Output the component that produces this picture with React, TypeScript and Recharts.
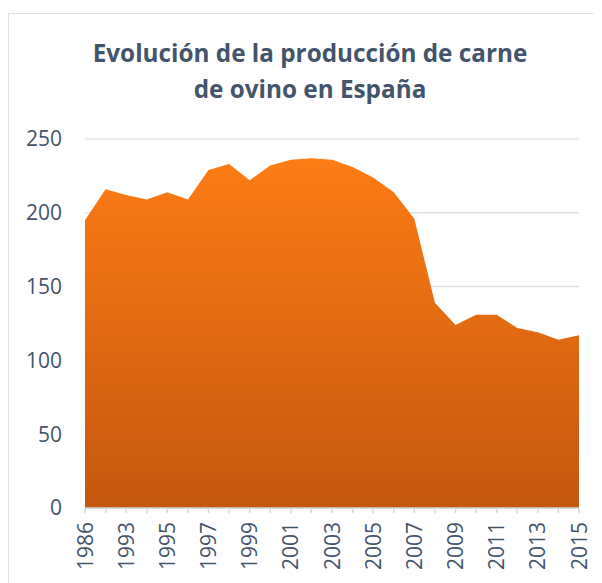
import { AreaChart, Area, XAxis, YAxis, CartesianGrid } from "recharts";

const years = [
  "1986", "1990", "1993", "1994", "1995", "1996", "1997", "1998", "1999",
  "2000", "2001", "2002", "2003", "2004", "2005", "2006", "2007", "2008",
  "2009", "2010", "2011", "2012", "2013", "2014", "2015",
];
const production = [
  195, 216, 212, 209, 214, 209, 229, 233, 222,
  232, 236, 237, 236, 231, 224, 214, 196, 139,
  124, 131, 131, 122, 119, 114, 117,
];
const yTicks = [0, 50, 100, 150, 200, 250];

const data = years.map((year, i) => ({ year, value: production[i] }));

const FONT = "'Open Sans', sans-serif";
const TEXT = "#44546a";

const YearTick = (props: any) => {
  const { x, y, payload, index } = props;
  if (index % 2 !== 0) return null;
  return (
    <text
      x={x}
      y={y}
      transform={`rotate(-90 ${x} ${y})`}
      textAnchor="end"
      dy="0.36em"
      fontSize={21}
      fontFamily={FONT}
      fill={TEXT}
    >
      {payload.value}
    </text>
  );
};

export default function App() {
  return (
    <div
      style={{
        position: "relative",
        marginTop: 5,
        width: 594,
        height: 570,
        borderTop: "1.5px solid #dde2e8",
        borderLeft: "1.5px solid #dde2e8",
        boxSizing: "border-box",
      }}
    >
      <div
        style={{
          position: "absolute",
          left: 0,
          top: 21,
          width: 602,
          textAlign: "center",
          fontFamily: FONT,
          fontWeight: 700,
          fontSize: 24.3,
          lineHeight: "36px",
          color: TEXT,
        }}
      >
        Evolución de la producción de carne
        <br />
        de ovino en España
      </div>
      <AreaChart
        width={594}
        height={570}
        data={data}
        margin={{ top: 125, right: 24, bottom: 6, left: 16 }}
      >
        <defs>
          <linearGradient id="orangeFill" x1="0" y1="0" x2="0" y2="1">
            <stop offset="0%" stopColor="#fd7c15" />
            <stop offset="100%" stopColor="#c4570e" />
          </linearGradient>
        </defs>
        <CartesianGrid vertical={false} stroke="#dfe3e8" strokeWidth={1.5} />
        <XAxis
          dataKey="year"
          interval={0}
          height={70}
          tick={<YearTick />}
          tickSize={5}
          tickMargin={9}
          axisLine={{ stroke: "#d3d7dc", strokeWidth: 1.5 }}
          tickLine={{ stroke: "#d3d7dc", strokeWidth: 1.5 }}
        />
        <YAxis
          width={60}
          domain={[0, 250]}
          ticks={yTicks}
          axisLine={false}
          tickLine={false}
          tickMargin={17}
          tick={{ fontSize: 21, fontFamily: FONT, fill: TEXT }}
        />
        <Area
          type="linear"
          dataKey="value"
          stroke="none"
          fill="url(#orangeFill)"
          fillOpacity={1}
          isAnimationActive={false}
        />
      </AreaChart>
    </div>
  );
}
